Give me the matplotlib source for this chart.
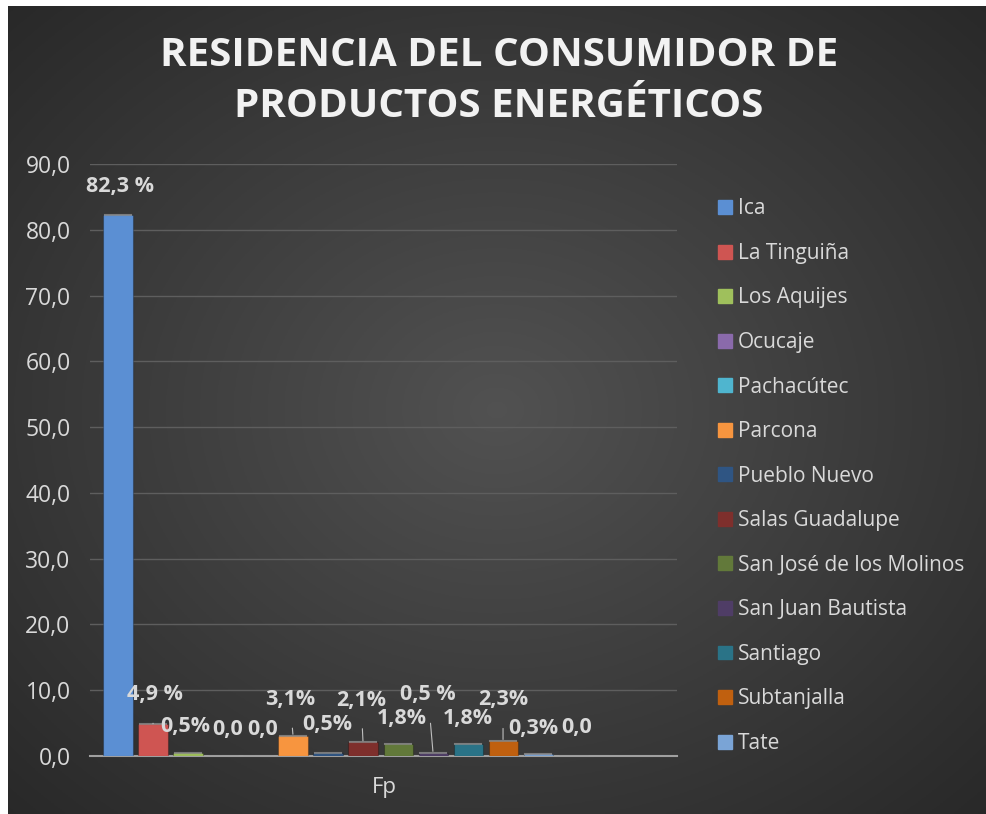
import numpy as np
import matplotlib.pyplot as plt
from matplotlib.patches import Patch

# data
distritos = ["Ica", "La Tinguiña", "Los Aquijes", "Ocucaje", "Pachacútec", "Parcona",
             "Pueblo Nuevo", "Salas Guadalupe", "San José de los Molinos",
             "San Juan Bautista", "Santiago", "Subtanjalla", "Tate"]
valores = [82.3, 4.9, 0.5, 0.0, 0.0, 3.1, 0.5, 2.1, 1.8, 0.5, 1.8, 2.3, 0.3, 0.0]
etiquetas = ["82,3 %", "4,9 %", "0,5%", "0,0", "0,0", "3,1%", "0,5%", "2,1%",
             "1,8%", "0,5 %", "1,8%", "2,3%", "0,3%", "0,0"]
colores = ["#5b8fd3", "#cf5552", "#9fc05c", "#8a6aab", "#4fb5cf", "#f7953f",
           "#2f5583", "#7e2f2c", "#62793a", "#4f3d66", "#2a7387", "#c0600f",
           "#7aa4d6", "#4a4a4a"]
categoria = "Fp"

# label offsets in pixels (dx, dy) from bar top, and whether a leader line is drawn
offsets = [(2, 28), (2, 29), (-3, 26), (5, 26), (5, 26), (-3, 36), (-1, 28),
           (-2, 42), (4, 26), (-5, 58), (0, 26), (0, 41), (-5, 26), (4, 28)]
leader = [False, True, False, False, False, True, False, True, False, True,
          False, True, False, False]

W, H = 986, 814
fig = plt.figure(figsize=(W / 100, H / 100), dpi=100, facecolor="white")
plt.rcParams['font.family'] = ['Open Sans', 'DejaVu Sans']

# background with radial gradient
bg = fig.add_axes([8 / W, 0, 1 - 8 / W, 1 - 6 / H])
yy, xx = np.mgrid[0:1:300j, 0:1:360j]
r = np.sqrt(((xx - 0.5) / 0.75) ** 2 + ((yy - 0.5) / 0.75) ** 2)
shade = 0.32 - 0.17 * np.clip(r, 0, 1)
bg.imshow(np.dstack([shade] * 3), extent=[0, 1, 0, 1], aspect="auto")
bg.set_axis_off()

# plot area: x 90..677 px, y 164..756 px
ax = fig.add_axes([90 / W, 1 - 756 / H, (677 - 90) / W, (756 - 164) / H])
ax.patch.set_alpha(0)
x = np.arange(len(valores))
bars = ax.bar(x, valores, width=0.83, color=colores, edgecolor="#00000040",
              linewidth=0.8, zorder=3)
# light bevel on top of each bar
for b in bars:
    if b.get_height() > 0:
        ax.plot([b.get_x() + 0.05, b.get_x() + b.get_width() - 0.05],
                [b.get_height(), b.get_height()], color="white", alpha=0.35,
                lw=1.5, zorder=4)
ax.set_xlim(-0.8, 15.97)
ax.set_ylim(0, 90)
ax.set_yticks(np.arange(0, 91, 10))
ax.set_yticklabels([f"{v:.1f}".replace(".", ",") for v in np.arange(0, 91, 10)],
                   color="#d9d9d9", fontsize=16.5)
ax.tick_params(axis="y", length=0, pad=14)
ax.set_xticks([7.6])
ax.set_xticklabels([categoria], color="#d9d9d9", fontsize=16)
ax.tick_params(axis="x", length=0, pad=15)
ax.grid(axis="y", color="#5e5e5e", linewidth=1, zorder=0)
for s in ["top", "right", "left"]:
    ax.spines[s].set_visible(False)
ax.spines["bottom"].set_color("#a0a0a0")
ax.spines["bottom"].set_linewidth(1.5)

for i, v in enumerate(valores):
    dx, dy = offsets[i]
    ax.annotate(etiquetas[i], xy=(i, v), xytext=(dx, dy), textcoords="offset pixels",
                ha="center", va="center", fontsize=15.5, fontweight="bold",
                color="#d9d9d9", zorder=5,
                arrowprops=dict(arrowstyle="-", color="#bfbfbf", lw=0.8,
                                shrinkA=11, shrinkB=1) if leader[i] else None)

fig.text(499 / W, 1 - 81 / H, "RESIDENCIA DEL CONSUMIDOR DE\nPRODUCTOS ENERGÉTICOS",
         ha="center", va="center", fontsize=29, fontweight="bold", color="#f2f2f2",
         linespacing=1.38)

handles = [Patch(facecolor=colores[i], edgecolor=colores[i]) for i in range(len(distritos))]
fig.legend(handles, distritos, loc="upper left", bbox_to_anchor=(708 / W, 1 - 188 / H),
           frameon=False, fontsize=15, labelcolor="#d9d9d9", handlelength=0.65,
           handleheight=0.65, handletextpad=0.3, labelspacing=1.13, borderpad=0)

fig.savefig("out.png", dpi=100, facecolor=fig.get_facecolor())
